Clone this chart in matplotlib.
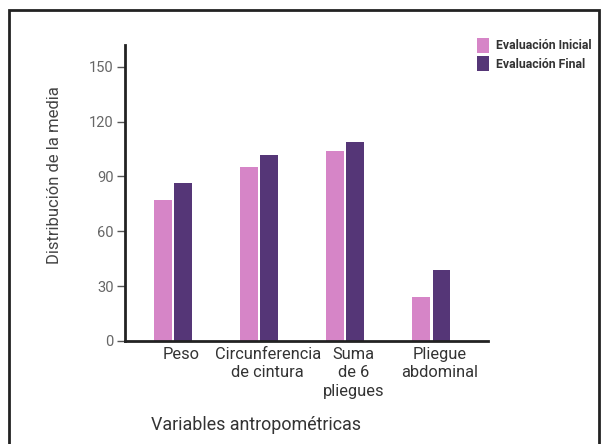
import matplotlib
matplotlib.use("Agg")
import matplotlib.pyplot as plt
from matplotlib.patches import Rectangle
import numpy as np

plt.rcParams['font.family'] = ['Roboto', 'DejaVu Sans']

categories = ["Peso", "Circunferencia\nde cintura", "Suma\nde 6\npliegues", "Pliegue\nabdominal"]
inicial = [77, 95, 104, 24]
final = [86.5, 101.5, 109, 39]
yticks = [0, 30, 60, 90, 120, 150]

color_ini = "#d685c7"
color_fin = "#553677"

fig = plt.figure(figsize=(6.03, 4.44), dpi=100)
ax = fig.add_axes([0.207, 0.232, 0.602, 0.667])

x = np.arange(len(categories))
w = 0.2
ax.bar(x - 0.117, inicial, width=w, color=color_ini, label="Evaluación Inicial")
ax.bar(x + 0.117, final, width=w, color=color_fin, label="Evaluación Final")

ax.set_xlim(-0.56, 3.66)
ax.set_ylim(0, 162)
ax.set_yticks(yticks)
ax.set_yticklabels([str(v) for v in yticks], color="#666666", fontsize=10.5)
ax.set_xticks(x + 0.1)
ax.set_xticklabels(categories, fontsize=11.8, color="#333333", linespacing=1.3)
ax.tick_params(axis='x', length=0, pad=4)
ax.tick_params(axis='y', length=6, width=1, color="#555555", pad=2)

for s in ["top", "right"]:
    ax.spines[s].set_visible(False)
for s in ["left", "bottom"]:
    ax.spines[s].set_linewidth(2)
    ax.spines[s].set_color("#222222")

ax.set_ylabel("Distribución de la media", fontsize=12, color="#444444")
ax.yaxis.label.set_va("center")
ax.yaxis.set_label_coords(-0.193, 0.56)
fig.text(0.424, 0.043, "Variables antropométricas", fontsize=12.9, color="#333333",
         ha="center", va="center")

leg = fig.legend(loc="upper left", bbox_to_anchor=(0.772, 0.94), frameon=False,
                 prop={'weight': 'bold', 'size': 8.8}, handlelength=1.0, handleheight=1.5,
                 handletextpad=0.6, labelspacing=0.3)
for t in leg.get_texts():
    t.set_color("#333333")

fig.patches.append(Rectangle((0.015, -0.02), 0.979, 0.998, transform=fig.transFigure,
                             fill=False, edgecolor="#222222", linewidth=2))

fig.savefig("out.png", dpi=100)
